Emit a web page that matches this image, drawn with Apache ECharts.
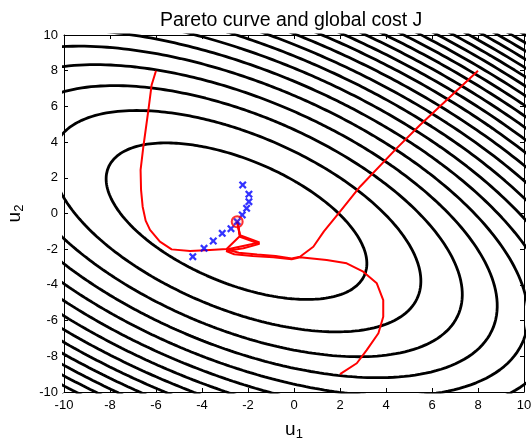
<!DOCTYPE html>
<html>
<head>
<meta charset="utf-8">
<script src="https://cdn.jsdelivr.net/npm/echarts@6/dist/echarts.min.js"></script>
<style>
  html, body { margin: 0; padding: 0; background: #fff; }
  #chart { width: 532px; height: 441px; }
</style>
</head>
<body>
<div id="chart"></div>
<script>
// global cost J(u) = a*d1^2 + 2*b*d1*d2 + c*d2^2, d = u - centre
const costCentre = [-2.5, -0.43];
const costQuad = [1.43, 1.0, 2.39];
const costLevels = [32.5, 65, 97.5, 130, 162.5, 195, 227.5, 260, 292.5, 325, 357.5, 390,
  422.5, 455, 487.5, 520, 552.5, 585, 617.5, 650, 682.5, 715, 747.5];

// Pareto curves (three runs), [u1, u2]
const paretoUpperLeft = [
  [-6.0, 8.0], [-6.19, 7.2], [-6.33, 5.8], [-6.55, 3.74], [-6.67, 2.44], [-6.65, 1.32],
  [-6.58, 0.38], [-6.45, -0.4], [-6.26, -0.92], [-5.83, -1.58], [-5.32, -2.01], [-4.52, -2.1],
  [-3.65, -2.04], [-2.93, -1.99], [-2.35, -1.26], [-2.4, -0.85], [-2.47, -0.46]
];
const paretoUpperRight = [
  [8.0, 8.0], [6.64, 6.36], [5.48, 4.96], [4.46, 3.65], [2.87, 1.5], [2.0, 0.1], [1.3, -1.0],
  [0.84, -1.86], [0.26, -2.42], [-0.1, -2.52], [-0.8, -2.38], [-1.6, -2.3], [-2.4, -2.2],
  [-2.93, -2.02], [-1.5, -1.62], [-2.35, -1.22], [-2.47, -0.46]
];
const paretoLower = [
  [2.0, -9.0], [2.73, -8.39], [3.16, -7.65], [3.67, -6.71], [3.88, -5.78], [3.88, -4.85],
  [3.6, -3.91], [3.01, -3.26], [2.29, -2.79], [1.42, -2.61], [0.26, -2.45], [-0.1, -2.56],
  [-0.9, -2.45], [-1.8, -2.38], [-2.6, -2.28], [-2.95, -2.1], [-2.2, -1.95], [-1.5, -1.7],
  [-2.35, -1.3], [-2.47, -0.46]
];

// blue crosses and the optimum
const crossPoints = [
  [-2.23, 1.6], [-1.96, 1.08], [-1.96, 0.66], [-2.06, 0.29], [-2.25, -0.08], [-2.47, -0.46],
  [-2.74, -0.85], [-3.12, -1.11], [-3.51, -1.54], [-3.91, -1.95], [-4.4, -2.42]
];
const optimum = [[-2.47, -0.46]];

function contourRing(level) {
  const [a, b, c] = costQuad;
  const pts = [];
  for (let i = 0; i <= 360; i++) {
    const t = i * Math.PI / 180;
    const ct = Math.cos(t), st = Math.sin(t);
    const r = Math.sqrt(level / (a * ct * ct + 2 * b * ct * st + c * st * st));
    pts.push([costCentre[0] + r * ct, costCentre[1] + r * st]);
  }
  return pts;
}

const font = "'Liberation Sans', Arial, sans-serif";

const axisCommon = {
  type: 'value',
  min: -10,
  max: 10,
  interval: 2,
  splitLine: { show: false },
  axisLine: { onZero: false, lineStyle: { color: '#000', width: 1 } },
  axisTick: { inside: true, length: 4, lineStyle: { color: '#000' } },
};

const series = [];
costLevels.forEach(function (lv) {
  series.push({
    type: 'line',
    data: contourRing(lv),
    showSymbol: false,
    silent: true,
    lineStyle: { color: '#000', width: 2.8 },
    z: 2
  });
});
[paretoUpperLeft, paretoUpperRight, paretoLower].forEach(function (p) {
  series.push({
    type: 'line',
    data: p,
    showSymbol: false,
    lineStyle: { color: '#ff0000', width: 2 },
    z: 3
  });
});
series.push({
  type: 'scatter',
  data: crossPoints,
  symbol: 'path://M2,0L5,3L8,0L10,2L7,5L10,8L8,10L5,7L2,10L0,8L3,5L0,2Z',
  symbolSize: 8,
  itemStyle: { color: '#0000ff' },
  z: 4
});
series.push({
  type: 'scatter',
  data: optimum,
  symbol: 'circle',
  symbolSize: 11,
  itemStyle: { color: 'rgba(255,0,0,0.15)', borderColor: '#ff0000', borderWidth: 2 },
  z: 5
});

const chart = echarts.init(document.getElementById('chart'));
chart.setOption({
  animation: false,
  title: {
    text: 'Pareto curve and global cost J',
    left: 155,
    top: 6,
    textStyle: { fontFamily: font, fontSize: 19.5, fontWeight: 'normal', color: '#000' }
  },
  grid: { left: 64, right: 8, top: 35, bottom: 49, outerBoundsMode: 'none' },
  xAxis: [
    Object.assign({}, axisCommon, {
      position: 'bottom',
      axisLabel: { color: '#000', fontFamily: font, fontSize: 13, margin: 7 },
      name: '{u|u}{s|1}',
      nameLocation: 'middle',
      nameGap: 26,
      nameTextStyle: {
        rich: {
          u: { fontFamily: font, fontSize: 19, color: '#000' },
          s: { fontFamily: font, fontSize: 13, color: '#000', padding: [10, 0, 0, 0] }
        }
      }
    }),
    Object.assign({}, axisCommon, { position: 'top', axisLabel: { show: false } })
  ],
  yAxis: [
    Object.assign({}, axisCommon, {
      position: 'left',
      axisLabel: { color: '#000', fontFamily: font, fontSize: 13, margin: 6 },
      name: '{u|u}{s|2}',
      nameLocation: 'middle',
      nameGap: 38,
      nameRotate: 90,
      nameTextStyle: {
        rich: {
          u: { fontFamily: font, fontSize: 19, color: '#000' },
          s: { fontFamily: font, fontSize: 13, color: '#000', padding: [10, 0, 0, 0] }
        }
      }
    }),
    Object.assign({}, axisCommon, { position: 'right', axisLabel: { show: false } })
  ],
  series: series
});
</script>
</body>
</html>
